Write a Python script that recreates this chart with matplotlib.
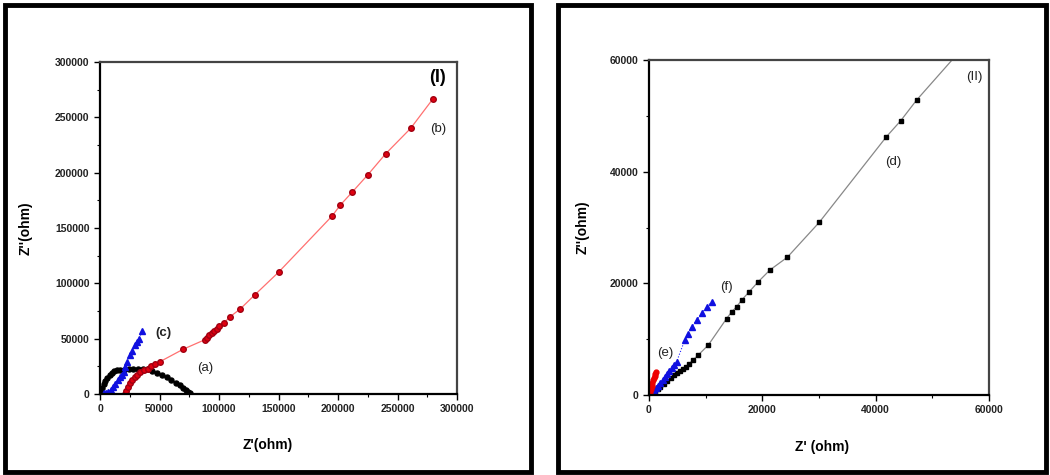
import matplotlib
matplotlib.use("Agg")
import matplotlib.pyplot as plt
from matplotlib.patches import Rectangle
from matplotlib.ticker import MultipleLocator

plt.rcParams['font.family'] = ['Liberation Sans', 'DejaVu Sans']

# panel I
a_x = [500, 1500, 3000, 4500, 6000, 8000, 10000, 12000, 14000, 17000, 20000, 24000, 28000,
       32000, 36000, 40000, 44000, 48000, 52000, 56000, 60000, 64000, 67000, 70000, 72000,
       74000, 76000]
a_y = [1500, 5000, 9000, 12000, 14500, 17000, 19000, 20500, 21500, 22000, 22000, 22500, 23000,
       23000, 23000, 22500, 21000, 19000, 17000, 15000, 12500, 10000, 8000, 5500, 4000,
       2000, 500]
b_x = [21000, 22000, 23500, 25000, 27000, 29000, 31500, 34000, 37000, 40000, 43000, 46500,
       50000, 70000, 88000, 90000, 92000, 94000, 96000, 98000, 100000, 104000, 109000, 118000,
       130000, 150000, 195000, 202000, 212000, 225000, 240000, 261000, 280000]
b_y = [0, 3000, 6500, 9500, 12500, 15000, 17500, 19500, 21500, 23000, 25000, 27000,
       29000, 40500, 49000, 51000, 53000, 55000, 57000, 59000, 61000, 64000, 69500, 77000,
       89500, 110000, 160800, 170800, 182500, 198000, 217000, 240000, 267000]
c_x = [3000, 5000, 7000, 9000, 11000, 13000, 15000, 17000, 18500, 20000, 21000, 23000,
       25000, 27000, 29500, 31000, 33000, 35000]
c_y = [500, 1000, 2000, 3500, 6000, 9000, 12500, 15000, 17000, 20000, 24500, 29000,
       35000, 39000, 44000, 47000, 50000, 56500]

# panel II
d_x = [200, 500, 1000, 1500, 2000, 2600, 3200, 3800, 4400, 5000, 5500, 6000, 6500, 7000,
       7770, 8700, 10470, 13700, 14600, 15460, 16350, 17650, 19240, 21350, 24400, 30050,
       41900, 44400, 47240]
d_y = [100, 300, 600, 1000, 1400, 1900, 2500, 3000, 3500, 3900, 4300, 4700, 5100, 5500,
       6270, 7160, 8950, 13700, 14900, 15800, 17000, 18450, 20240, 22400, 24660, 30930,
       46260, 49100, 52840]
d_fit_x = d_x + [54000]
d_fit_y = d_y + [60600]
e_x = [50, 150, 300, 450, 600, 750, 900, 1000, 1100, 1200]
e_y = [200, 600, 1100, 1600, 2100, 2600, 3000, 3400, 3800, 4200]
f_x = [100, 300, 600, 900, 1200, 1600, 2000, 2400, 2800, 3200, 3600, 4000, 4400, 4880,
       6300, 6900, 7530, 8400, 9300, 10180, 11060]
f_y = [100, 300, 600, 900, 1300, 1700, 2200, 2700, 3200, 3700, 4300, 4900, 5400, 5970,
       9800, 11000, 12240, 13400, 14600, 15800, 16700]

fig = plt.figure(figsize=(10.5, 4.75), dpi=100)

# thick outer frames
for x0, x1 in [(5, 531), (558, 1046)]:
    fig.patches.append(Rectangle((x0 / 1050, 3 / 475), (x1 - x0) / 1050, 467 / 475,
                                 transform=fig.transFigure, fill=False,
                                 edgecolor='black', linewidth=3.5))

ax1 = fig.add_axes([100 / 1050, 81 / 475, 357 / 1050, 332 / 475])
ax2 = fig.add_axes([649 / 1050, 80 / 475, 340 / 1050, 335 / 475])

ax1.plot(a_x, a_y, '-o', color='black', ms=3.6, lw=0.8)
ax1.plot(b_x, b_y, '-o', color='#ff7070', mfc='#e00010', mec='#a00010', ms=4, lw=0.9)
ax1.plot(c_x, c_y, ':^', color='#2020ff', mfc='#1010e0', mec='#1010e0', ms=4, lw=0.8)
ax1.set_xlim(0, 300000)
ax1.set_ylim(0, 300000)
ax1.xaxis.set_major_locator(MultipleLocator(50000))
ax1.yaxis.set_major_locator(MultipleLocator(50000))
ax1.xaxis.set_minor_locator(MultipleLocator(25000))
ax1.yaxis.set_minor_locator(MultipleLocator(25000))

ax2.plot(d_fit_x, d_fit_y, '-', color='#888888', lw=0.9)
ax2.plot(d_x, d_y, 's', color='black', ms=3.5)
ax2.plot(f_x, f_y, ':^', color='#2020ff', mfc='#1010e0', mec='#1010e0', ms=4, lw=0.8)
ax2.plot(e_x, e_y, '-o', color='#ff2020', mfc='#ee0000', mec='#ee0000', ms=3.5, lw=1)
ax2.set_xlim(0, 60000)
ax2.set_ylim(0, 60000)
ax2.xaxis.set_major_locator(MultipleLocator(20000))
ax2.yaxis.set_major_locator(MultipleLocator(20000))
ax2.xaxis.set_minor_locator(MultipleLocator(10000))
ax2.yaxis.set_minor_locator(MultipleLocator(10000))

for ax in (ax1, ax2):
    ax.tick_params(which='major', direction='out', length=4, width=1, labelsize=7.5,
                   labelcolor='#222222')
    ax.tick_params(which='minor', direction='out', length=2.5, width=0.8)
    for lab in ax.get_xticklabels() + ax.get_yticklabels():
        lab.set_fontweight('bold')
    for side in ('left', 'bottom'):
        ax.spines[side].set_linewidth(1.6)
    for side in ('top', 'right'):
        ax.spines[side].set_linewidth(1.6)
        ax.spines[side].set_color('#444444')

ax1.set_xlabel("Z'(ohm)", fontsize=10, fontweight='bold')
ax1.set_ylabel("Z''(ohm)", fontsize=10, fontweight='bold')
ax1.xaxis.set_label_coords(0.47, -0.133)
ax1.yaxis.set_label_coords(-0.188, 0.5)
ax2.set_xlabel("Z' (ohm)", fontsize=10, fontweight='bold')
ax2.set_ylabel("Z''(ohm)", fontsize=10, fontweight='bold')
ax2.xaxis.set_label_coords(0.51, -0.134)
ax2.yaxis.set_label_coords(-0.174, 0.5)

fig.text(438 / 1050, 1 - 77 / 475, '(I)', fontsize=13, fontweight='bold',
         ha='center', va='center')

# curve labels (pixel positions from top-left)
fig_labels = [
    ('(b)', 438, 129), ('(c)', 163, 333), ('(a)', 205, 368),
    ('(II)', 974, 77), ('(d)', 893, 162), ('(e)', 665, 353), ('(f)', 726, 287),
]
for s, px, py in fig_labels:
    fig.text(px / 1050, 1 - py / 475, s, fontsize=9.5, ha='center', va='center',
             fontweight='bold' if s == '(c)' else 'normal', color='#222222')

fig.savefig('out.png', dpi=100)
